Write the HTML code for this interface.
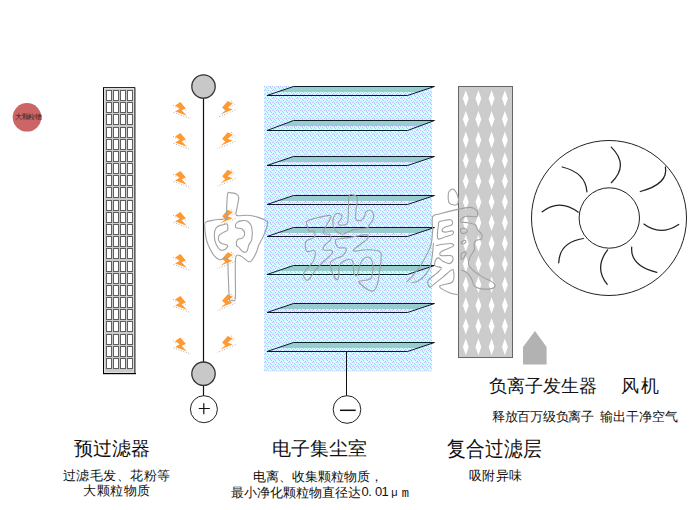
<!DOCTYPE html>
<html><head><meta charset="utf-8">
<style>
html,body{margin:0;padding:0;background:#fff;}
body{width:700px;height:510px;position:relative;overflow:hidden;font-family:"Liberation Sans",sans-serif;color:#111;}
svg{position:absolute;left:0;top:0;}
.t{position:absolute;white-space:nowrap;line-height:1;}
.h{font-size:19px;}
.s{font-size:13px;}
.n{display:inline-block;width:6.5px;text-align:center;font-size:12px;}
.n.w{width:13px;}
</style></head><body>
<svg width="700" height="510" viewBox="0 0 700 510">
<defs>
<pattern id="dots" width="8" height="8" patternUnits="userSpaceOnUse" x="264" y="84">
<rect width="8" height="8" fill="#ccffff"/>
<g fill="#c6bcff">
<rect x="3" y="0" width="1" height="1"/><rect x="7" y="0" width="1" height="1"/>
<rect x="1" y="1" width="1" height="1"/><rect x="5" y="1" width="1" height="1"/>
<rect x="0" y="2" width="1" height="1"/><rect x="4" y="2" width="1" height="1"/><rect x="6" y="2" width="1" height="1"/>
<rect x="2" y="3" width="1" height="1"/><rect x="6" y="3" width="1" height="1"/>
<rect x="3" y="4" width="1" height="1"/><rect x="7" y="4" width="1" height="1"/>
<rect x="1" y="5" width="1" height="1"/>
<rect x="0" y="6" width="1" height="1"/><rect x="2" y="6" width="1" height="1"/><rect x="4" y="6" width="1" height="1"/>
<rect x="6" y="7" width="1" height="1"/>
</g>
</pattern>
<g id="bl">
<path d="M10.4 1.0L15.9 7.4L11.6 9.2L16.9 14.7L5.1 10.4L9.6 7.8L5.1 4.5Z" fill="#ff9a33"/>
<path d="M3.2 4.3L7.5 7.4M3.6 11.5L20 17.4M15.2 9.2L15.8 9.6" stroke="#9a9a9a" stroke-width="0.8" stroke-dasharray="1 1.6" fill="none"/>
</g>
<g id="br">
<path d="M227.7 100.9L232.9 103.4L227.7 107.5L232.6 109.5L220.4 114.4L225.3 110.5L222.1 107.5Z" fill="#ff9a33"/>
<path d="M234.6 104.3L230.4 107.5M235.5 109.7L230.4 112.4M227.5 113.4L217.4 117.3M231.2 101L233.8 102.5" stroke="#9a9a9a" stroke-width="0.8" stroke-dasharray="1 1.6" fill="none"/>
</g>
</defs>
<circle cx="27" cy="117.3" r="14.3" fill="#cc6666"/>
<rect x="103" y="87" width="33" height="287" fill="#c9c9c9"/>
<path d="M104.5 372V88.5H133" stroke="#dddddd" stroke-width="1" fill="none"/>
<path d="M133.5 88V372.5H104" stroke="#dddddd" stroke-width="1" fill="none"/>
<rect x="134" y="87" width="1" height="287" fill="#606060"/>
<rect x="135" y="88" width="1" height="286" fill="#9a9a9a"/>
<rect x="103" y="87" width="1" height="287" fill="#000"/>
<rect x="103" y="87" width="32" height="1" fill="#2a2a2a"/>
<rect x="103" y="373" width="33" height="1.2" fill="#000"/>
<g fill="#fff" stroke="#5e5e5e" stroke-width="1"><rect x="106.5" y="90.5" width="5" height="10"/><rect x="113.5" y="90.5" width="5" height="10"/><rect x="120.5" y="90.5" width="5" height="10"/><rect x="127.5" y="90.5" width="5" height="10"/><rect x="106.5" y="102.5" width="5" height="10"/><rect x="113.5" y="102.5" width="5" height="10"/><rect x="120.5" y="102.5" width="5" height="10"/><rect x="127.5" y="102.5" width="5" height="10"/><rect x="106.5" y="114.5" width="5" height="10"/><rect x="113.5" y="114.5" width="5" height="10"/><rect x="120.5" y="114.5" width="5" height="10"/><rect x="127.5" y="114.5" width="5" height="10"/><rect x="106.5" y="127.5" width="5" height="10"/><rect x="113.5" y="127.5" width="5" height="10"/><rect x="120.5" y="127.5" width="5" height="10"/><rect x="127.5" y="127.5" width="5" height="10"/><rect x="106.5" y="139.5" width="5" height="10"/><rect x="113.5" y="139.5" width="5" height="10"/><rect x="120.5" y="139.5" width="5" height="10"/><rect x="127.5" y="139.5" width="5" height="10"/><rect x="106.5" y="151.5" width="5" height="10"/><rect x="113.5" y="151.5" width="5" height="10"/><rect x="120.5" y="151.5" width="5" height="10"/><rect x="127.5" y="151.5" width="5" height="10"/><rect x="106.5" y="163.5" width="5" height="10"/><rect x="113.5" y="163.5" width="5" height="10"/><rect x="120.5" y="163.5" width="5" height="10"/><rect x="127.5" y="163.5" width="5" height="10"/><rect x="106.5" y="175.5" width="5" height="10"/><rect x="113.5" y="175.5" width="5" height="10"/><rect x="120.5" y="175.5" width="5" height="10"/><rect x="127.5" y="175.5" width="5" height="10"/><rect x="106.5" y="187.5" width="5" height="10"/><rect x="113.5" y="187.5" width="5" height="10"/><rect x="120.5" y="187.5" width="5" height="10"/><rect x="127.5" y="187.5" width="5" height="10"/><rect x="106.5" y="200.5" width="5" height="10"/><rect x="113.5" y="200.5" width="5" height="10"/><rect x="120.5" y="200.5" width="5" height="10"/><rect x="127.5" y="200.5" width="5" height="10"/><rect x="106.5" y="212.5" width="5" height="10"/><rect x="113.5" y="212.5" width="5" height="10"/><rect x="120.5" y="212.5" width="5" height="10"/><rect x="127.5" y="212.5" width="5" height="10"/><rect x="106.5" y="224.5" width="5" height="10"/><rect x="113.5" y="224.5" width="5" height="10"/><rect x="120.5" y="224.5" width="5" height="10"/><rect x="127.5" y="224.5" width="5" height="10"/><rect x="106.5" y="236.5" width="5" height="10"/><rect x="113.5" y="236.5" width="5" height="10"/><rect x="120.5" y="236.5" width="5" height="10"/><rect x="127.5" y="236.5" width="5" height="10"/><rect x="106.5" y="248.5" width="5" height="10"/><rect x="113.5" y="248.5" width="5" height="10"/><rect x="120.5" y="248.5" width="5" height="10"/><rect x="127.5" y="248.5" width="5" height="10"/><rect x="106.5" y="261.5" width="5" height="10"/><rect x="113.5" y="261.5" width="5" height="10"/><rect x="120.5" y="261.5" width="5" height="10"/><rect x="127.5" y="261.5" width="5" height="10"/><rect x="106.5" y="273.5" width="5" height="10"/><rect x="113.5" y="273.5" width="5" height="10"/><rect x="120.5" y="273.5" width="5" height="10"/><rect x="127.5" y="273.5" width="5" height="10"/><rect x="106.5" y="285.5" width="5" height="10"/><rect x="113.5" y="285.5" width="5" height="10"/><rect x="120.5" y="285.5" width="5" height="10"/><rect x="127.5" y="285.5" width="5" height="10"/><rect x="106.5" y="297.5" width="5" height="10"/><rect x="113.5" y="297.5" width="5" height="10"/><rect x="120.5" y="297.5" width="5" height="10"/><rect x="127.5" y="297.5" width="5" height="10"/><rect x="106.5" y="309.5" width="5" height="10"/><rect x="113.5" y="309.5" width="5" height="10"/><rect x="120.5" y="309.5" width="5" height="10"/><rect x="127.5" y="309.5" width="5" height="10"/><rect x="106.5" y="321.5" width="5" height="10"/><rect x="113.5" y="321.5" width="5" height="10"/><rect x="120.5" y="321.5" width="5" height="10"/><rect x="127.5" y="321.5" width="5" height="10"/><rect x="106.5" y="334.5" width="5" height="10"/><rect x="113.5" y="334.5" width="5" height="10"/><rect x="120.5" y="334.5" width="5" height="10"/><rect x="127.5" y="334.5" width="5" height="10"/><rect x="106.5" y="346.5" width="5" height="10"/><rect x="113.5" y="346.5" width="5" height="10"/><rect x="120.5" y="346.5" width="5" height="10"/><rect x="127.5" y="346.5" width="5" height="10"/><rect x="106.5" y="358.5" width="5" height="10"/><rect x="113.5" y="358.5" width="5" height="10"/><rect x="120.5" y="358.5" width="5" height="10"/><rect x="127.5" y="358.5" width="5" height="10"/></g>
<line x1="203.5" y1="98" x2="203.5" y2="396" stroke="#111" stroke-width="1.2"/>
<circle cx="203.5" cy="86.5" r="11.7" fill="#c8c8c8" stroke="#333" stroke-width="1.3"/>
<circle cx="203.5" cy="373.7" r="11.7" fill="#c8c8c8" stroke="#333" stroke-width="1.3"/>
<circle cx="203.9" cy="409.2" r="13.5" fill="#fff" stroke="#222" stroke-width="1"/>
<path d="M198.8 408.5H209.8M203.8 403.3V414.3" stroke="#111" stroke-width="1.2"/>
<use href="#bl" transform="translate(170 101.0)"/>
<use href="#bl" transform="translate(170 132.0)"/>
<use href="#bl" transform="translate(170 170.0)"/>
<use href="#bl" transform="translate(170 211.0)"/>
<use href="#bl" transform="translate(170 253.0)"/>
<use href="#bl" transform="translate(170 295.0)"/>
<use href="#bl" transform="translate(170 336.5)"/>
<use href="#br" transform="translate(0 0.0)"/>
<use href="#br" transform="translate(0 31.3)"/>
<use href="#br" transform="translate(0 68.8)"/>
<use href="#br" transform="translate(0 108.8)"/>
<use href="#br" transform="translate(0 151.3)"/>
<use href="#br" transform="translate(0 193.3)"/>
<use href="#br" transform="translate(0 235.0)"/>
<rect x="264" y="86" width="168" height="285.5" fill="url(#dots)"/>
<g stroke-linejoin="miter">
<path d="M293.5 86.5L434.5 86.5L418.00 92.0L277.31 92.0Z" fill="#99cccc"/>
<path d="M267.0 95.5L293.5 86.5L434.5 86.5L407.5 95.5Z" fill="none" stroke="#0b1d2a" stroke-width="1"/>
<path d="M293.5 120.5L434.5 120.5L419.65 126.0L278.93 126.0Z" fill="#99cccc"/>
<path d="M267.0 130.5L293.5 120.5L434.5 120.5L407.5 130.5Z" fill="none" stroke="#0b1d2a" stroke-width="1"/>
<path d="M293.5 156.5L434.5 156.5L418.00 162.0L277.31 162.0Z" fill="#99cccc"/>
<path d="M267.0 165.5L293.5 156.5L434.5 156.5L407.5 165.5Z" fill="none" stroke="#0b1d2a" stroke-width="1"/>
<path d="M293.5 195.5L434.5 195.5L418.00 201.0L277.31 201.0Z" fill="#99cccc"/>
<path d="M267.0 204.5L293.5 195.5L434.5 195.5L407.5 204.5Z" fill="none" stroke="#0b1d2a" stroke-width="1"/>
<path d="M293.5 227.5L434.5 227.5L418.00 233.0L277.31 233.0Z" fill="#99cccc"/>
<path d="M267.0 236.5L293.5 227.5L434.5 227.5L407.5 236.5Z" fill="none" stroke="#0b1d2a" stroke-width="1"/>
<path d="M293.5 265.5L434.5 265.5L418.00 271.0L277.31 271.0Z" fill="#99cccc"/>
<path d="M267.0 274.5L293.5 265.5L434.5 265.5L407.5 274.5Z" fill="none" stroke="#0b1d2a" stroke-width="1"/>
<path d="M293.5 303.5L434.5 303.5L418.00 309.0L277.31 309.0Z" fill="#99cccc"/>
<path d="M267.0 312.5L293.5 303.5L434.5 303.5L407.5 312.5Z" fill="none" stroke="#0b1d2a" stroke-width="1"/>
<path d="M293.5 342.5L434.5 342.5L418.00 348.0L277.31 348.0Z" fill="#99cccc"/>
<path d="M267.0 351.5L293.5 342.5L434.5 342.5L407.5 351.5Z" fill="none" stroke="#0b1d2a" stroke-width="1"/>
</g>
<line x1="346.5" y1="351.5" x2="346.5" y2="396" stroke="#111" stroke-width="1"/>
<circle cx="347" cy="409.5" r="13.8" fill="#fff" stroke="#222" stroke-width="1"/>
<path d="M340 410.3H355.7" stroke="#111" stroke-width="1.5"/>
<rect x="458.5" y="86.5" width="54" height="271" fill="#cccccc" stroke="#666" stroke-width="1"/>
<g fill="#fff"><path d="M465.8 90.2L468.7 98.5L465.8 106.8L462.9 98.5Z"/><path d="M478.4 90.2L481.3 98.5L478.4 106.8L475.5 98.5Z"/><path d="M491.6 90.2L494.5 98.5L491.6 106.8L488.7 98.5Z"/><path d="M504.9 90.2L507.8 98.5L504.9 106.8L502.0 98.5Z"/><path d="M465.8 110.9L468.7 119.2L465.8 127.5L462.9 119.2Z"/><path d="M478.4 110.9L481.3 119.2L478.4 127.5L475.5 119.2Z"/><path d="M491.6 110.9L494.5 119.2L491.6 127.5L488.7 119.2Z"/><path d="M504.9 110.9L507.8 119.2L504.9 127.5L502.0 119.2Z"/><path d="M465.8 131.6L468.7 139.9L465.8 148.2L462.9 139.9Z"/><path d="M478.4 131.6L481.3 139.9L478.4 148.2L475.5 139.9Z"/><path d="M491.6 131.6L494.5 139.9L491.6 148.2L488.7 139.9Z"/><path d="M504.9 131.6L507.8 139.9L504.9 148.2L502.0 139.9Z"/><path d="M465.8 152.3L468.7 160.6L465.8 168.9L462.9 160.6Z"/><path d="M478.4 152.3L481.3 160.6L478.4 168.9L475.5 160.6Z"/><path d="M491.6 152.3L494.5 160.6L491.6 168.9L488.7 160.6Z"/><path d="M504.9 152.3L507.8 160.6L504.9 168.9L502.0 160.6Z"/><path d="M465.8 173.0L468.7 181.3L465.8 189.6L462.9 181.3Z"/><path d="M478.4 173.0L481.3 181.3L478.4 189.6L475.5 181.3Z"/><path d="M491.6 173.0L494.5 181.3L491.6 189.6L488.7 181.3Z"/><path d="M504.9 173.0L507.8 181.3L504.9 189.6L502.0 181.3Z"/><path d="M465.8 193.7L468.7 202.0L465.8 210.3L462.9 202.0Z"/><path d="M478.4 193.7L481.3 202.0L478.4 210.3L475.5 202.0Z"/><path d="M491.6 193.7L494.5 202.0L491.6 210.3L488.7 202.0Z"/><path d="M504.9 193.7L507.8 202.0L504.9 210.3L502.0 202.0Z"/><path d="M465.8 214.4L468.7 222.7L465.8 231.0L462.9 222.7Z"/><path d="M478.4 214.4L481.3 222.7L478.4 231.0L475.5 222.7Z"/><path d="M491.6 214.4L494.5 222.7L491.6 231.0L488.7 222.7Z"/><path d="M504.9 214.4L507.8 222.7L504.9 231.0L502.0 222.7Z"/><path d="M465.8 235.1L468.7 243.4L465.8 251.7L462.9 243.4Z"/><path d="M478.4 235.1L481.3 243.4L478.4 251.7L475.5 243.4Z"/><path d="M491.6 235.1L494.5 243.4L491.6 251.7L488.7 243.4Z"/><path d="M504.9 235.1L507.8 243.4L504.9 251.7L502.0 243.4Z"/><path d="M465.8 255.8L468.7 264.1L465.8 272.4L462.9 264.1Z"/><path d="M478.4 255.8L481.3 264.1L478.4 272.4L475.5 264.1Z"/><path d="M491.6 255.8L494.5 264.1L491.6 272.4L488.7 264.1Z"/><path d="M504.9 255.8L507.8 264.1L504.9 272.4L502.0 264.1Z"/><path d="M465.8 276.5L468.7 284.8L465.8 293.1L462.9 284.8Z"/><path d="M478.4 276.5L481.3 284.8L478.4 293.1L475.5 284.8Z"/><path d="M491.6 276.5L494.5 284.8L491.6 293.1L488.7 284.8Z"/><path d="M504.9 276.5L507.8 284.8L504.9 293.1L502.0 284.8Z"/><path d="M465.8 297.2L468.7 305.5L465.8 313.8L462.9 305.5Z"/><path d="M478.4 297.2L481.3 305.5L478.4 313.8L475.5 305.5Z"/><path d="M491.6 297.2L494.5 305.5L491.6 313.8L488.7 305.5Z"/><path d="M504.9 297.2L507.8 305.5L504.9 313.8L502.0 305.5Z"/><path d="M465.8 317.9L468.7 326.2L465.8 334.5L462.9 326.2Z"/><path d="M478.4 317.9L481.3 326.2L478.4 334.5L475.5 326.2Z"/><path d="M491.6 317.9L494.5 326.2L491.6 334.5L488.7 326.2Z"/><path d="M504.9 317.9L507.8 326.2L504.9 334.5L502.0 326.2Z"/><path d="M465.8 338.6L468.7 346.9L465.8 355.2L462.9 346.9Z"/><path d="M478.4 338.6L481.3 346.9L478.4 355.2L475.5 346.9Z"/><path d="M491.6 338.6L494.5 346.9L491.6 355.2L488.7 346.9Z"/><path d="M504.9 338.6L507.8 346.9L504.9 355.2L502.0 346.9Z"/></g>
<path d="M523 347L535 331L546.6 347L546.6 364.4L523 364.4Z" fill="#b2b2b2"/>
<g fill="none" stroke="#222">
<circle cx="609" cy="218" r="77.5" stroke-width="1"/>
<circle cx="609.3" cy="218" r="30.2" stroke-width="1"/>
<g stroke-width="1.25" stroke-linecap="round">
<path d="M562.2 167Q585.85 172.8 586.9 191.8"/>
<path d="M542.2 211.8Q559.35 198.2 578.3 212.2"/>
<path d="M611.3 147.1Q629.5 165.3 611.3 182.7"/>
<path d="M665.4 167Q668.55 183.95 640.3 191.5"/>
<path d="M643.9 224.1Q660.1 236.55 678.7 224.4"/>
<path d="M631.7 247.2Q630.15 265.85 656.8 272.3"/>
<path d="M583.3 238.5Q559.6 242.15 558.7 262.8"/>
<path d="M607.6 249.8Q593.8 267.95 607.2 284.3"/>
</g>
</g>
<g fill="none" stroke="#a0a0a0" stroke-width="1.1" stroke-linejoin="round"><path d="M230.6 192.9C232.1 192.9 235.1 193.3 236.5 194.1C237.9 194.9 238.7 195.3 238.8 197.6C238.9 199.8 237.5 204.6 237.1 207.6C236.7 210.6 234.8 214.0 236.5 215.3C238.2 216.6 243.6 215.0 247.1 215.3C250.6 215.6 254.5 216.2 257.6 217.1C260.7 218.0 264.2 219.4 265.9 220.6C267.6 221.8 268.0 221.5 267.6 224.1C267.2 226.7 265.0 232.4 263.5 235.9C262.0 239.4 260.0 242.3 258.8 245.0C257.6 247.7 257.7 249.5 256.5 252.1C255.3 254.7 253.2 258.7 251.8 260.3C250.4 261.9 250.0 262.2 248.2 261.5C246.4 260.8 243.2 257.0 241.2 256.2C239.1 255.4 236.9 253.8 235.9 256.8C234.9 259.8 235.4 267.4 235.3 274.4C235.2 281.3 235.9 294.2 235.3 298.5C234.7 302.8 232.8 300.2 231.8 300.3C230.8 300.4 230.0 303.4 229.4 299.1C228.8 294.8 228.6 281.2 228.2 274.4C227.8 267.6 228.5 260.9 227.1 258.5C225.7 256.1 222.2 260.2 220.0 259.7C217.8 259.2 216.1 258.1 214.1 255.6C212.1 253.2 209.6 248.1 208.2 245.0C206.8 241.9 206.5 240.4 205.9 237.1C205.3 233.8 204.6 227.9 204.7 225.3C204.8 222.8 204.9 222.7 206.5 221.8C208.1 220.9 210.8 220.6 214.1 220.0C217.4 219.4 224.4 219.5 226.5 218.2C228.6 216.9 226.3 216.4 226.5 212.4C226.7 208.4 226.9 197.3 227.6 194.1C228.3 190.8 229.1 192.9 230.6 192.9Z"/><path d="M227.1 224.1C226.4 223.2 225.1 224.3 223.5 224.7C221.9 225.1 219.1 225.4 217.6 226.5C216.1 227.6 215.2 229.0 214.7 231.2C214.2 233.3 214.4 237.1 214.7 239.4C215.0 241.7 215.6 243.3 216.5 245.0C217.4 246.7 218.6 248.9 220.0 249.7C221.4 250.5 223.5 250.1 224.7 249.7C225.9 249.3 226.6 248.1 227.1 247.4C227.6 246.7 228.2 245.9 227.6 245.3C227.0 244.8 224.9 244.7 223.5 244.1C222.1 243.5 220.2 243.2 219.4 241.8C218.6 240.4 218.1 237.5 218.8 235.9C219.5 234.3 222.0 233.4 223.5 232.4C225.0 231.4 227.0 231.4 227.6 230.0C228.2 228.6 227.8 225.0 227.1 224.1Z"/><path d="M236.5 223.0C237.6 221.8 240.5 220.8 242.4 220.6C244.3 220.4 246.6 220.6 248.2 221.8C249.8 223.0 251.2 224.7 251.8 227.6C252.4 230.5 252.3 236.5 251.8 239.4C251.3 242.3 249.6 243.1 248.8 245.0C248.0 246.9 248.0 249.7 247.1 250.9C246.2 252.1 244.9 252.7 243.5 252.1C242.1 251.5 240.0 248.5 238.8 247.4C237.6 246.3 236.7 246.6 236.5 245.3C236.3 244.0 236.6 240.6 237.6 239.4C238.6 238.2 241.2 239.2 242.4 238.2C243.6 237.2 244.8 235.1 244.7 233.5C244.6 231.9 243.3 229.8 241.8 228.8C240.3 227.8 236.8 228.6 235.9 227.6C235.0 226.6 235.4 224.2 236.5 223.0Z"/><path d="M306.9 221.3C308.3 219.7 312.8 219.0 316.6 218.0C320.4 217.0 327.2 215.4 329.5 215.4C331.8 215.4 331.1 216.3 330.6 218.0C330.1 219.7 327.5 223.3 326.3 225.6C325.1 227.8 324.0 230.2 323.6 231.5C323.2 232.8 323.1 233.1 324.1 233.7C325.1 234.2 328.4 233.8 329.5 234.8C330.6 235.8 331.3 238.1 330.6 239.7C329.9 241.3 326.6 242.8 325.3 244.4C324.0 246.0 322.9 248.1 322.9 249.1C322.9 250.1 323.9 250.1 325.3 250.3C326.7 250.5 330.1 249.7 331.2 250.3C332.3 250.9 333.3 251.7 331.8 253.8C330.3 255.9 325.0 260.0 322.0 263.0C319.0 266.0 315.9 269.6 314.0 272.0C312.1 274.4 311.7 276.0 310.6 277.4C309.5 278.8 308.6 280.1 307.6 280.3C306.6 280.5 305.4 279.6 304.7 278.5C304.0 277.4 303.0 275.6 303.5 273.8C304.0 272.1 305.9 270.1 307.6 268.0C309.3 265.9 312.2 263.5 313.5 260.9C314.8 258.3 315.3 254.4 315.3 252.6C315.3 250.8 314.9 250.5 313.5 250.3C312.1 250.1 308.5 252.3 307.1 251.5C305.7 250.7 305.4 247.4 305.3 245.6C305.2 243.8 305.1 242.2 306.5 240.9C307.9 239.6 312.1 238.8 313.5 237.9C314.9 237.0 314.9 236.5 315.0 235.3C315.1 234.2 314.9 231.7 313.9 231.0C312.9 230.3 310.0 231.5 309.0 231.0C308.0 230.5 308.2 229.4 307.9 227.8C307.5 226.2 305.4 222.9 306.9 221.3Z"/><path d="M333.8 217.0C334.3 215.6 334.9 214.1 336.0 213.7C337.1 213.2 339.3 213.7 340.3 214.3C341.3 214.9 342.1 216.3 341.9 217.5C341.7 218.7 339.8 220.3 339.2 221.3C338.6 222.3 337.9 222.8 338.1 223.4C338.3 224.0 339.0 224.9 340.3 225.1C341.6 225.3 344.4 225.1 345.7 224.5C347.0 223.9 347.4 223.5 347.9 221.3C348.3 219.2 348.2 215.8 348.4 211.6C348.6 207.4 348.3 198.8 349.1 196.0C349.9 193.2 351.9 194.9 353.2 195.0C354.5 195.1 356.1 195.9 356.8 196.8C357.5 197.7 357.5 198.4 357.4 200.3C357.3 202.2 356.5 205.6 356.2 208.5C355.9 211.4 355.5 215.9 355.6 217.9C355.7 219.9 355.8 219.9 356.8 220.3C357.8 220.7 360.2 220.9 361.5 220.3C362.8 219.7 363.7 218.2 364.4 216.8C365.1 215.4 364.7 213.2 365.6 212.1C366.5 211.0 368.4 210.1 369.7 210.3C371.0 210.5 372.6 211.7 373.2 213.2C373.8 214.7 373.9 217.1 373.2 219.1C372.5 221.1 370.1 223.6 369.1 225.0C368.1 226.4 369.8 227.0 367.4 227.7C365.0 228.4 358.1 228.8 355.0 229.4C351.9 230.0 351.0 230.7 348.9 231.5C346.8 232.3 344.3 234.0 342.5 234.2C340.7 234.4 339.5 233.5 338.1 232.6C336.8 231.7 335.3 230.5 334.4 228.8C333.5 227.1 332.9 224.4 332.8 222.4C332.7 220.4 333.3 218.4 333.8 217.0Z"/><path d="M335.9 239.7C336.8 238.5 339.4 238.9 341.8 238.5C344.2 238.1 345.9 238.1 350.0 237.4C354.1 236.8 363.2 234.4 366.1 234.6C369.0 234.8 368.3 237.1 367.4 238.7C366.5 240.3 362.9 242.4 360.6 244.2C358.3 246.0 354.6 248.5 353.7 249.7C352.8 250.8 352.8 251.1 355.1 251.1C357.4 251.1 363.5 249.7 367.4 249.7C371.3 249.7 376.1 250.2 378.4 251.1C380.7 252.0 381.0 252.0 381.2 255.2C381.4 258.4 380.5 265.3 379.8 270.3C379.1 275.3 378.2 282.0 377.1 285.4C376.0 288.8 374.5 290.2 372.9 290.9C371.3 291.6 369.4 290.6 367.4 289.5C365.3 288.4 362.0 285.4 360.6 284.0C359.2 282.6 358.1 282.0 359.2 281.3C360.3 280.6 365.3 280.6 367.4 279.9C369.5 279.2 370.7 279.5 371.6 277.2C372.5 274.9 373.1 269.4 372.9 266.2C372.7 263.0 371.6 259.4 370.2 258.0C368.8 256.6 366.3 257.1 364.7 258.0C363.1 258.9 361.7 261.1 360.6 263.4C359.5 265.7 358.7 269.9 358.0 272.0C357.3 274.1 357.2 275.6 356.5 275.8C355.8 276.0 354.3 275.3 353.7 273.0C353.1 270.7 353.6 264.4 353.0 262.1C352.4 259.8 351.8 259.5 350.3 259.3C348.8 259.1 345.8 259.9 344.0 261.0C342.2 262.1 340.3 263.3 339.4 265.6C338.5 267.9 339.1 272.6 338.8 275.0C338.5 277.4 338.3 279.3 337.6 279.7C336.9 280.1 335.8 279.2 334.7 277.4C333.6 275.6 331.9 271.7 331.2 269.1C330.5 266.6 329.8 263.9 330.6 262.1C331.4 260.3 334.0 259.5 335.9 258.5C337.8 257.5 340.1 257.4 341.8 256.2C343.5 255.0 345.3 252.9 345.9 251.5C346.5 250.1 346.4 248.5 345.3 247.9C344.2 247.3 340.9 248.3 339.4 247.9C337.9 247.5 337.1 247.0 336.5 245.6C335.9 244.2 335.0 240.9 335.9 239.7Z"/><path d="M448.8 192.1C449.6 190.6 451.4 188.5 452.9 189.1C454.4 189.7 456.7 193.3 457.6 195.6C458.5 197.8 458.6 201.0 458.2 202.6C457.8 204.2 456.8 204.9 455.3 205.0C453.8 205.1 450.6 204.4 449.4 203.2C448.2 202.0 448.3 199.8 448.2 197.9C448.1 196.1 448.0 193.6 448.8 192.1Z"/><path d="M406.4 282.1C407.5 281.0 410.4 278.7 412.9 275.7C415.4 272.7 418.9 268.2 421.4 264.3C423.9 260.4 426.4 255.2 428.0 252.0C429.6 248.8 430.1 248.3 430.9 245.0C431.7 241.7 432.3 236.8 432.6 232.1C432.9 227.4 431.4 219.9 432.6 216.8C433.8 213.8 435.6 215.1 440.0 213.8C444.4 212.5 453.7 210.2 458.8 209.1C463.9 208.0 467.7 207.2 470.6 207.4C473.6 207.6 475.3 208.9 476.5 210.3C477.7 211.7 477.8 214.5 477.6 215.6C477.4 216.7 477.2 216.7 475.3 216.8C473.4 216.9 468.2 215.8 465.9 216.2C463.5 216.6 462.0 218.1 461.2 219.1C460.4 220.1 460.2 221.5 461.2 222.1C462.2 222.7 464.8 222.1 467.1 222.6C469.5 223.1 473.6 223.8 475.3 225.0C477.1 226.2 476.5 228.1 477.6 229.7C478.7 231.3 481.2 232.8 481.8 234.4C482.4 236.0 482.1 238.1 481.2 239.1C480.3 240.1 477.7 239.5 476.5 240.3C475.3 241.1 474.5 242.2 474.1 243.8C473.7 245.4 475.0 247.8 474.3 250.0C473.6 252.2 470.9 254.7 470.0 257.1C469.1 259.5 467.9 261.9 468.6 264.3C469.3 266.7 471.9 269.3 474.3 271.4C476.7 273.5 480.0 275.4 482.9 277.1C485.8 278.8 489.4 280.0 491.4 281.4C493.4 282.8 495.0 284.5 495.0 285.7C495.0 286.9 493.9 288.1 491.4 288.6C488.9 289.1 482.9 289.1 480.0 288.6C477.1 288.1 475.7 287.4 474.3 285.7C472.9 284.0 472.6 280.7 471.4 278.6C470.2 276.5 468.8 274.3 467.1 272.9C465.4 271.5 462.3 270.5 461.4 270.0"/><path d="M411.4 282.9C412.6 282.5 416.2 282.1 418.6 280.7C421.0 279.3 423.8 276.6 425.7 274.3C427.6 272.0 428.9 270.0 430.0 267.1C431.1 264.2 431.5 261.1 432.1 257.1C432.7 253.1 433.3 245.3 433.5 243.0"/><path d="M439.7 221.5C441.7 220.6 448.1 219.5 450.3 219.7C452.5 219.9 452.4 221.7 452.6 222.6C452.8 223.5 452.9 224.2 451.5 225.0C450.1 225.8 446.0 226.4 444.4 227.4C442.8 228.4 441.9 230.1 442.1 230.9C442.3 231.7 443.9 232.1 445.6 232.1C447.4 232.1 451.4 230.5 452.6 230.9C453.8 231.3 453.8 233.4 452.6 234.4C451.4 235.4 448.0 236.0 445.6 236.8C443.2 237.6 439.9 239.5 438.5 239.1C437.1 238.7 437.4 236.8 437.4 234.4C437.4 232.1 438.1 227.2 438.5 225.0C438.9 222.8 437.7 222.4 439.7 221.5Z"/><path d="M435.7 245.7C436.9 245.5 440.3 244.7 442.9 244.3C445.5 244.0 449.7 243.2 451.4 243.6C453.1 243.9 454.6 245.1 452.9 246.4C451.2 247.7 443.5 250.0 441.4 251.4C439.2 252.8 439.8 254.3 440.0 255.0C440.2 255.7 441.0 255.6 442.9 255.7C444.8 255.8 449.7 255.0 451.4 255.7C453.1 256.4 453.2 258.7 452.9 260.0C452.5 261.3 451.0 263.4 449.3 263.6C447.6 263.8 444.7 262.3 442.9 261.4C441.1 260.4 439.8 258.1 438.6 257.9C437.4 257.7 436.3 258.7 435.7 260.0C435.1 261.3 434.1 264.4 435.0 265.7C435.9 267.0 441.0 266.7 441.4 267.9C441.8 269.1 439.2 270.9 437.1 272.9C435.0 274.9 430.1 278.2 428.6 280.0C427.1 281.8 427.7 282.4 427.9 283.6C428.1 284.8 428.7 287.2 430.0 287.1C431.3 287.0 433.6 284.6 435.7 282.9C437.8 281.2 440.3 279.2 442.9 277.1C445.5 275.0 449.6 270.9 451.4 270.0C453.2 269.1 453.4 269.5 453.6 271.4C453.9 273.3 454.2 279.2 452.9 281.4C451.6 283.5 447.8 283.6 445.7 284.3C443.6 285.0 440.7 285.0 440.0 285.7C439.3 286.4 439.7 287.4 441.4 288.6C443.1 289.8 447.1 291.8 450.0 292.9C452.9 294.0 457.2 294.6 458.6 295.0"/><path d="M460.6 229.1C461.1 228.3 463.6 228.3 464.7 228.5C465.8 228.7 466.8 229.6 467.1 230.3C467.4 231.0 467.4 232.1 466.5 232.6C465.6 233.1 462.8 233.8 461.8 233.2C460.8 232.6 460.1 229.9 460.6 229.1Z"/><path d="M461.2 242.6C461.5 242.0 463.9 240.4 464.7 240.3C465.5 240.2 466.2 241.5 465.9 242.1C465.6 242.7 463.8 243.9 463.0 244.0C462.2 244.1 460.9 243.2 461.2 242.6Z"/><path d="M461.4 253.6C462.1 252.4 465.2 251.5 465.7 252.1C466.2 252.7 465.0 255.9 464.3 257.1C463.6 258.3 461.9 259.9 461.4 259.3C460.9 258.7 460.7 254.8 461.4 253.6Z"/></g>
</svg>
<div class="t" style="left:15px;top:113px;font-size:7px;color:#222;letter-spacing:-0.5px">大颗粒物</div>
<div class="t h" style="left:74px;top:439px;">预过滤器</div>
<div class="t s" style="left:63px;top:469px;letter-spacing:0.45px">过滤毛发、花粉等</div>
<div class="t s" style="left:83px;top:484px;letter-spacing:0.5px">大颗粒物质</div>
<div class="t h" style="left:272px;top:439px;">电子集尘室</div>
<div class="t s" style="left:253px;top:470px;">电离、收集颗粒物质，</div>
<div class="t s" style="left:231px;top:486px;">最小净化颗粒物直径达</div>
<div class="t" style="left:361.5px;top:485px;font-size:13px">0</div>
<div class="t" style="left:368.3px;top:485px;font-size:13px">.</div>
<div class="t" style="left:375.1px;top:485px;font-size:13px">0</div>
<div class="t" style="left:381.6px;top:485px;font-size:13px">1</div>
<div class="t" style="left:391.3px;top:486.5px;font-size:11px">μ</div>
<div class="t" style="left:401.8px;top:487.7px;font-size:12px;font-family:&quot;Liberation Mono&quot;,monospace">m</div>
<div class="t h" style="left:446.5px;top:437.5px;transform:scaleY(1.12);transform-origin:0 0">复合过滤层</div>
<div class="t s" style="left:469px;top:469px;letter-spacing:0.3px">吸附异味</div>
<div class="t h" style="left:489px;top:377px;font-size:18px">负离子发生器</div>
<div class="t h" style="left:621px;top:377px;font-size:18px;letter-spacing:1.5px">风机</div>
<div class="t s" style="left:492px;top:410px;letter-spacing:-0.27px">释放百万级负离子</div>
<div class="t s" style="left:600px;top:410px;">输出干净空气</div>
</body></html>
